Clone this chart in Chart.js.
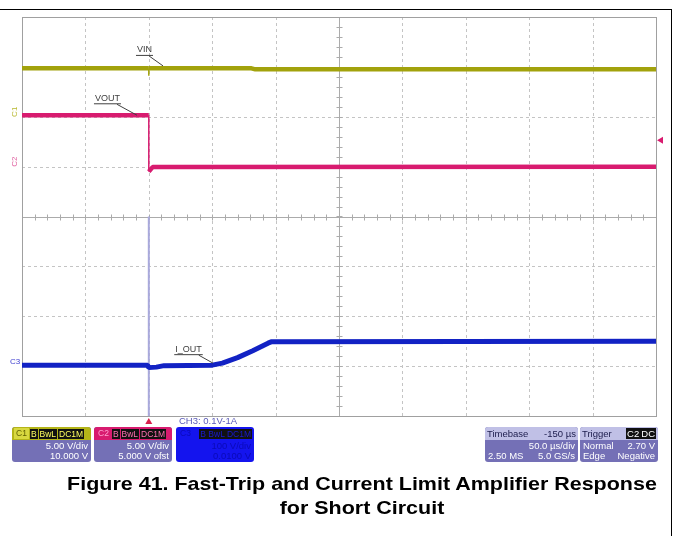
<!DOCTYPE html>
<html>
<head>
<meta charset="utf-8">
<script src="https://cdn.jsdelivr.net/npm/chart.js@4.4.1/dist/chart.umd.min.js"></script>
<style>
  body { margin: 0; background: #fff; font-family: "Liberation Sans", Arial, sans-serif; }
  #page { position: relative; width: 673px; height: 536px; overflow: hidden; }
  #scope { position: absolute; left: 0; top: 0; }
  .rule-top { position: absolute; left: 0; top: 9px; width: 672px; height: 1px; background: #000; }
  .rule-right { position: absolute; left: 671px; top: 9px; width: 1px; height: 527px; background: #000; }
  .box { position: absolute; top: 427px; height: 35px; border-radius: 3px; overflow: hidden;
         font-size: 9.5px; line-height: 10px; background: #7470b6; color: #fff; }
  .hd { height: 13px; display: flex; align-items: center; padding: 0 2px; gap: 1px; white-space: nowrap; font-size: 8.5px; }
  .bd { padding: 1px 3px 0 3px; }
  .row { display: flex; justify-content: space-between; height: 10px; white-space: nowrap; }
  .row.r { justify-content: flex-end; }
  .blk { background: #111; padding: 0 1px; line-height: 10px; }
  .tag { padding: 0 2px; line-height: 11px; }
  #ch3note { position: absolute; left: 179px; top: 415px; font-size: 9.5px; color: #5a5ab8; }
  #caption { position: absolute; left: 12px; width: 700px; top: 472px; text-align: center;
             font-weight: bold; font-size: 19px; line-height: 24px; color: #000; white-space: nowrap;
             transform: scaleX(1.13); transform-origin: 350px 0; }
</style>
</head>
<body>
<div id="page">
  <canvas id="scope" width="673" height="536"></canvas>
  <div class="rule-top"></div>
  <div class="rule-right"></div>

  <div class="box" style="left:12px;width:79px;">
    <div class="hd" style="background:#b4b418;color:#ffff60;">
      <span class="tag" style="background:#d8d840;color:#606000;">C1</span>
      <span class="blk">B</span><span class="blk">BwL</span><span class="blk">DC1M</span>
    </div>
    <div class="bd"><div class="row r">5.00 V/div</div><div class="row r">10.000 V</div></div>
  </div>

  <div class="box" style="left:94px;width:78px;">
    <div class="hd" style="background:#d81b6f;color:#ff70b0;">
      <span class="tag" style="color:#ffa0d0;">C2</span>
      <span class="blk">B</span><span class="blk">BwL</span><span class="blk">DC1M</span>
    </div>
    <div class="bd"><div class="row r">5.00 V/div</div><div class="row r">5.000 V ofst</div></div>
  </div>

  <div id="ch3note">CH3: 0.1V-1A</div>
  <div class="box" style="left:176px;width:78px;background:#1414ee;color:#0a0ab8;">
    <div class="hd" style="justify-content:space-between;">
      <span class="tag">C3</span>
      <span class="blk" style="color:#1a1ad0;">B BwL DC1M</span>
    </div>
    <div class="bd"><div class="row r">100 V/div</div><div class="row r">0.0100 V</div></div>
  </div>

  <div class="box" style="left:485px;width:93px;">
    <div class="hd" style="background:#c0c0e6;color:#202050;justify-content:space-between;font-size:9.5px;">
      <span>Timebase</span><span>-150 µs</span>
    </div>
    <div class="bd"><div class="row r">50.0 µs/div</div><div class="row"><span>2.50 MS</span><span>5.0 GS/s</span></div></div>
  </div>

  <div class="box" style="left:580px;width:78px;">
    <div class="hd" style="background:#c0c0e6;color:#202050;justify-content:space-between;font-size:9.5px;">
      <span>Trigger</span><span><span class="blk" style="color:#fff;">C2</span><span class="blk" style="color:#fff;">DC</span></span>
    </div>
    <div class="bd"><div class="row"><span>Normal</span><span>2.70 V</span></div><div class="row"><span>Edge</span><span>Negative</span></div></div>
  </div>

  <div id="caption">Figure 41. Fast-Trip and Current Limit Amplifier Response<br>for Short Circuit</div>
</div>

<script>
// time in µs relative to the trigger (50 µs/div), levels in screen divisions (0 = bottom, 8 = top)
const timeMin = -100;
const timeMax = 400;
const timeStep = 50;
const levelMin = 0;
const levelMax = 8;

const vinTime  = [-100, 0, 0, 0, 81, 84, 400];
const vinLevel = [6.97, 6.97, 6.82, 6.97, 6.97, 6.95, 6.95];

const voutTime  = [-100, 0, 0, 3, 400];
const voutLevel = [6.03, 6.03, 4.9, 4.99, 5.0];

const ioutTime  = [-100, -1, 0, 6, 12, 50, 58, 70, 82, 94, 97, 400];
const ioutLevel = [1.02, 1.02, 0.97, 0.98, 1.01, 1.02, 1.06, 1.17, 1.31, 1.46, 1.49, 1.5];

// trace annotations: text, text position, leader end
const noteText      = ['VIN', 'VOUT', 'I_OUT'];
const noteTime      = [-3.4, -32.6, 31.3];
const noteLevel     = [7.34, 6.37, 1.34];
const leaderTime    = [11.2, -9.3, 50.6];
const leaderLevel   = [7.02, 6.03, 1.06];

// channel ground markers at the left edge
const markerText  = ['C1', 'C2', 'C3'];
const markerLevel = [6.1, 5.1, 1.08];
const markerColor = ['#b8b830', '#e060a0', '#4040d0'];

const triggerTime = 0;
const triggerLevel = 5.53;

const toPoints = (ts, ys) => ts.map((t, i) => ({ x: t, y: ys[i] }));
// vertical edges on a scope trace are drawn thin
const thinVertical = { borderWidth: c => (c.p0.parsed.x === c.p1.parsed.x ? 1.5 : undefined) };

const gridPlugin = {
  id: 'scopeGrid',
  beforeDatasetsDraw(chart) {
    const { ctx, chartArea: a, scales: { x, y } } = chart;
    ctx.save();
    ctx.lineWidth = 1;
    ctx.strokeStyle = '#c4c4c4';
    ctx.setLineDash([3, 3]);
    for (let t = timeMin + timeStep; t < timeMax; t += timeStep) {
      if (t === timeMin + timeStep * 5) continue;
      const px = Math.round(x.getPixelForValue(t)) + 0.5;
      ctx.beginPath(); ctx.moveTo(px, a.top); ctx.lineTo(px, a.bottom); ctx.stroke();
    }
    for (let v = levelMin + 1; v < levelMax; v++) {
      if (v === 4) continue;
      const py = Math.round(y.getPixelForValue(v)) + 0.5;
      ctx.beginPath(); ctx.moveTo(a.left, py); ctx.lineTo(a.right, py); ctx.stroke();
    }
    ctx.setLineDash([]);
    ctx.strokeStyle = '#ababab';
    const cx = Math.round(x.getPixelForValue(timeMin + timeStep * 5)) + 0.5;
    const cy = Math.round(y.getPixelForValue(4)) + 0.5;
    ctx.beginPath();
    ctx.moveTo(cx, a.top); ctx.lineTo(cx, a.bottom);
    ctx.moveTo(a.left, cy); ctx.lineTo(a.right, cy);
    for (let t = timeMin; t <= timeMax; t += timeStep / 5) {
      const px = Math.round(x.getPixelForValue(t)) + 0.5;
      ctx.moveTo(px, cy - 3); ctx.lineTo(px, cy + 3);
    }
    for (let v = levelMin; v <= levelMax; v += 0.2) {
      const py = Math.round(y.getPixelForValue(v)) + 0.5;
      ctx.moveTo(cx - 3, py); ctx.lineTo(cx + 3, py);
    }
    ctx.stroke();
    ctx.strokeStyle = '#a0a0a0';
    ctx.strokeRect(a.left + 0.5, a.top + 0.5, a.right - a.left, a.bottom - a.top);

    // trigger cursor
    const tx = x.getPixelForValue(triggerTime);
    ctx.strokeStyle = '#a9a9dc';
    ctx.lineWidth = 2;
    ctx.beginPath(); ctx.moveTo(tx, y.getPixelForValue(4)); ctx.lineTo(tx, a.bottom); ctx.stroke();
    ctx.restore();
  },
  afterDatasetsDraw(chart) {
    const { ctx, chartArea: a, scales: { x, y } } = chart;
    ctx.save();
    ctx.font = '9px "Liberation Sans", Arial, sans-serif';
    ctx.fillStyle = '#404040';
    ctx.strokeStyle = '#404040';
    ctx.lineWidth = 1;
    ctx.textAlign = 'center';
    ctx.textBaseline = 'middle';
    noteText.forEach((txt, i) => {
      const px = x.getPixelForValue(noteTime[i]);
      const py = y.getPixelForValue(noteLevel[i]);
      const w = ctx.measureText(txt).width;
      ctx.fillText(txt, px, py);
      ctx.beginPath();
      ctx.moveTo(px - w / 2 - 1, py + 5.5); ctx.lineTo(px + w / 2 + 1, py + 5.5);
      ctx.moveTo(px + w / 2 - 3, py + 6);
      ctx.lineTo(x.getPixelForValue(leaderTime[i]), y.getPixelForValue(leaderLevel[i]));
      ctx.stroke();
    });

    ctx.font = '8px "Liberation Sans", Arial, sans-serif';
    markerText.forEach((txt, i) => {
      const py = y.getPixelForValue(markerLevel[i]);
      ctx.fillStyle = markerColor[i];
      if (i < 2) {
        ctx.save();
        ctx.translate(15, py);
        ctx.rotate(-Math.PI / 2);
        ctx.fillText(txt, 0, 0);
        ctx.restore();
      } else {
        ctx.fillText(txt, 15, py);
      }
    });

    // trigger position (bottom) and trigger level (right) markers
    const tx = x.getPixelForValue(triggerTime);
    ctx.fillStyle = '#d8204c';
    ctx.beginPath();
    ctx.moveTo(tx, a.bottom + 2); ctx.lineTo(tx - 3.5, a.bottom + 8); ctx.lineTo(tx + 3.5, a.bottom + 8);
    ctx.closePath(); ctx.fill();
    const ly = y.getPixelForValue(triggerLevel);
    ctx.fillStyle = '#d81b6f';
    ctx.beginPath();
    ctx.moveTo(a.right + 1, ly); ctx.lineTo(a.right + 7, ly - 3.5); ctx.lineTo(a.right + 7, ly + 3.5);
    ctx.closePath(); ctx.fill();
    ctx.restore();
  }
};

new Chart(document.getElementById('scope'), {
  type: 'line',
  data: {
    datasets: [
      { label: 'VIN', data: toPoints(vinTime, vinLevel), borderColor: '#a2a20c', borderWidth: 4.5, segment: thinVertical },
      { label: 'VOUT', data: toPoints(voutTime, voutLevel), borderColor: '#d81b6f', borderWidth: 4.5, segment: thinVertical },
      { label: 'I_OUT', data: toPoints(ioutTime, ioutLevel), borderColor: '#1222c4', borderWidth: 5, segment: thinVertical }
    ]
  },
  options: {
    responsive: false,
    animation: false,
    layout: { padding: { left: 22, right: 17, top: 17, bottom: 120 } },
    elements: { point: { radius: 0 }, line: { tension: 0, borderCapStyle: 'butt', borderJoinStyle: 'bevel' } },
    scales: {
      x: { type: 'linear', min: timeMin, max: timeMax, display: false },
      y: { min: levelMin, max: levelMax, display: false }
    },
    plugins: { legend: { display: false }, tooltip: { enabled: false } }
  },
  plugins: [gridPlugin]
});
</script>
</body>
</html>
